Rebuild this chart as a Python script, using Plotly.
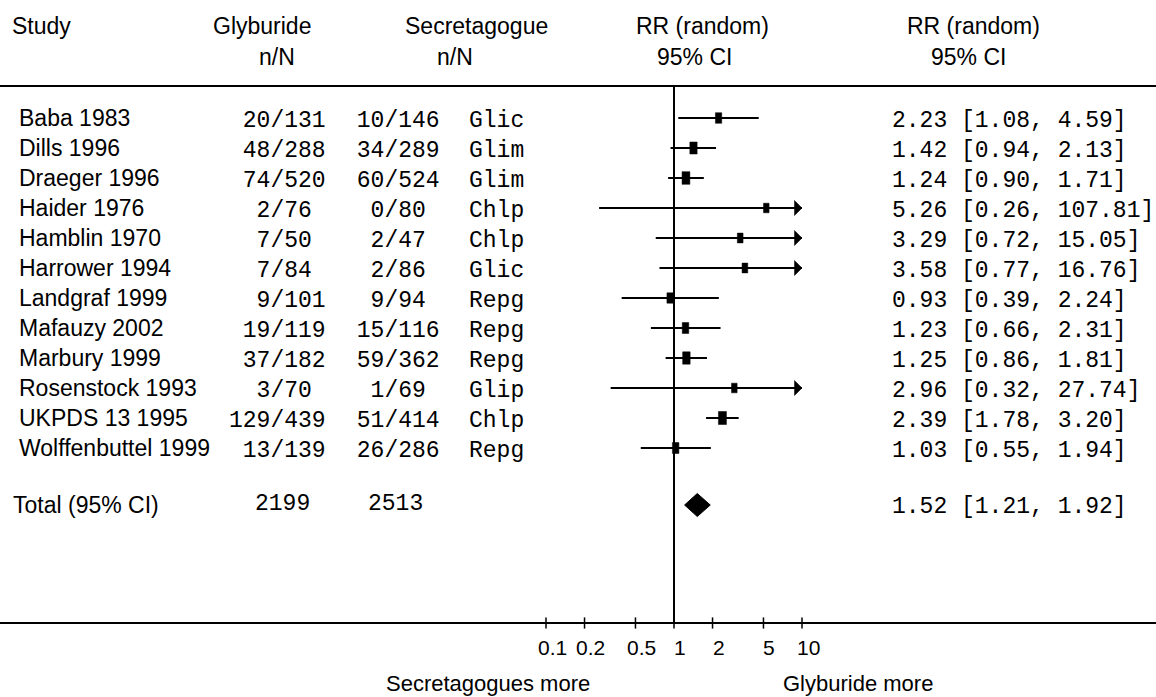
import numpy as np
import plotly.graph_objects as go

# ---------------- data ----------------
studies = ["Baba 1983", "Dills 1996", "Draeger 1996", "Haider 1976", "Hamblin 1970",
           "Harrower 1994", "Landgraf 1999", "Mafauzy 2002", "Marbury 1999",
           "Rosenstock 1993", "UKPDS 13 1995", "Wolffenbuttel 1999"]
glyb_n = [20, 48, 74, 2, 7, 7, 9, 19, 37, 3, 129, 13]
glyb_N = [131, 288, 520, 76, 50, 84, 101, 119, 182, 70, 439, 139]
sec_n = [10, 34, 60, 0, 2, 2, 9, 15, 59, 1, 51, 26]
sec_N = [146, 289, 524, 80, 47, 86, 94, 116, 362, 69, 414, 286]
drug = ["Glic", "Glim", "Glim", "Chlp", "Chlp", "Glic", "Repg", "Repg", "Repg",
        "Glip", "Chlp", "Repg"]
rr = [2.23, 1.42, 1.24, 5.26, 3.29, 3.58, 0.93, 1.23, 1.25, 2.96, 2.39, 1.03]
rr_lo = [1.08, 0.94, 0.90, 0.26, 0.72, 0.77, 0.39, 0.66, 0.86, 0.32, 1.78, 0.55]
rr_hi = [4.59, 2.13, 1.71, 107.81, 15.05, 16.76, 2.24, 2.31, 1.81, 27.74, 3.20, 1.94]
total_label = "Total (95% CI)"
total_glyb = 2199
total_sec = 2513
total_rr, total_lo, total_hi = 1.52, 1.21, 1.92
tick_vals = [0.1, 0.2, 0.5, 1, 2, 5, 10]
tick_text = ["0.1", "0.2", "0.5", "1", "2", "5", "10"]
axis_max = 10
left_label = "Secretagogues more"
right_label = "Glyburide more"

# ---------------- geometry / style ----------------
W, H = 1156, 697
X_ONE = 674.0      # pixel of RR = 1
PX_DEC = 128.0     # pixels per decade
ROW0 = 118.0       # pixel of first study row
ROWH = 30.0        # pixels per row
TOTAL_ROW = 12.9

SANS = "Liberation Sans, Arial, sans-serif"
MONO = "Liberation Mono, Courier New, monospace"
BLACK = "#000000"
MONO_SHIFT = -3    # courier digits sit a little lower than the sans labels

def py(p):
    return 1 - p / H

def px(p):
    return p / W

n = len(studies)
rows = list(range(n))
lx = np.log10(rr)
llo = np.log10(rr_lo)
lhi = np.log10(np.minimum(rr_hi, axis_max))

# box size from inverse-variance style weights (derived from the CIs)
se = (np.log(rr_hi) - np.log(rr_lo)) / 3.92
w = 1.0 / (se ** 2 + 0.03)
rel = w / w.max()
box_h = 9.5 + 3.5 * rel     # px
box_w = 5.5 + 2.5 * rel     # px

fig = go.Figure()

# CI lines
cx, cy = [], []
for i in rows:
    cx += [llo[i], lhi[i], None]
    cy += [i, i, None]
fig.add_trace(go.Scatter(x=cx, y=cy, mode="lines",
                         line=dict(color=BLACK, width=2), hoverinfo="skip"))

# point-estimate boxes (filled rectangles around each estimate)
bx, by = [], []
for i in rows:
    hw = box_w[i] / 2 / PX_DEC
    hh = box_h[i] / 2 / ROWH
    bx += [lx[i] - hw, lx[i] + hw, lx[i] + hw, lx[i] - hw, lx[i] - hw, None]
    by += [i - hh, i - hh, i + hh, i + hh, i - hh, None]
fig.add_trace(go.Scatter(x=bx, y=by, mode="lines", fill="toself", fillcolor=BLACK,
                         line=dict(color=BLACK, width=0.5), hoverinfo="skip"))

# arrow heads for CIs running past the axis
ax_, ay_ = [], []
tip = np.log10(axis_max)
for i in rows:
    if rr_hi[i] > axis_max:
        base = tip - 7.5 / PX_DEC
        ah = 7.5 / ROWH
        ax_ += [base, tip, base, base, None]
        ay_ += [i - ah, i, i + ah, i - ah, None]
fig.add_trace(go.Scatter(x=ax_, y=ay_, mode="lines", fill="toself", fillcolor=BLACK,
                         line=dict(color=BLACK, width=0.5), hoverinfo="skip"))

# total diamond
dh = 11.5 / ROWH
dx = np.log10([total_lo, total_rr, total_hi, total_rr, total_lo])
dy = [TOTAL_ROW, TOTAL_ROW - dh, TOTAL_ROW, TOTAL_ROW + dh, TOTAL_ROW]
fig.add_trace(go.Scatter(x=dx, y=dy, mode="lines", fill="toself",
                         fillcolor=BLACK, line=dict(color=BLACK, width=1),
                         hoverinfo="skip"))

# axis ticks (crossing the axis line)
axis_row = (623 - ROW0) / ROWH
fig.add_trace(go.Scatter(x=np.log10(tick_vals), y=[axis_row] * len(tick_vals),
                         mode="markers",
                         marker=dict(symbol="line-ns", size=8, color=BLACK,
                                     line=dict(color=BLACK, width=1.5)),
                         hoverinfo="skip"))

ann = []

def txt(x, y, s, font, size=23, xanchor="left", xref="paper", yref="y",
        xshift=0, yshift=0):
    ann.append(dict(x=x, y=y, xref=xref, yref=yref, text=s, showarrow=False,
                    xanchor=xanchor, yanchor="middle", xshift=xshift, yshift=yshift,
                    borderpad=0, borderwidth=0,
                    font=dict(family=font, size=size, color=BLACK)))

NB = "\u00a0"
def frac(a, b):
    return (str(a).rjust(3)).replace(" ", NB) + "/" + (str(b).ljust(3)).replace(" ", NB)

# headers
txt(px(12), py(26), "Study", SANS, yref="paper")
txt(px(262), py(26), "Glyburide", SANS, xanchor="center", yref="paper")
txt(px(277), py(57), "n/N", SANS, xanchor="center", yref="paper")
txt(px(476), py(26), "Secretagogue", SANS, xanchor="center", yref="paper")
txt(px(455), py(57), "n/N", SANS, xanchor="center", yref="paper")
txt(px(702), py(26), "RR (random)", SANS, xanchor="center", yref="paper")
txt(px(694), py(57), "95% CI", SANS, xanchor="center", yref="paper")
txt(px(973), py(26), "RR (random)", SANS, xanchor="center", yref="paper")
txt(px(968), py(57), "95% CI", SANS, xanchor="center", yref="paper")

# rows
for i in rows:
    txt(px(19), i, studies[i], SANS)
    txt(px(277.5), i, frac(glyb_n[i], glyb_N[i]), MONO, xanchor="center", yshift=MONO_SHIFT)
    txt(px(391.5), i, frac(sec_n[i], sec_N[i]), MONO, xanchor="center", yshift=MONO_SHIFT)
    txt(px(469), i, drug[i], MONO, yshift=MONO_SHIFT)
    txt(px(892), i, f"{rr[i]:.2f} [{rr_lo[i]:.2f}, {rr_hi[i]:.2f}]", MONO,
        yshift=MONO_SHIFT)

# total row
txt(px(13), TOTAL_ROW, total_label, SANS)
txt(px(282), TOTAL_ROW, str(total_glyb), MONO, xanchor="center", yshift=MONO_SHIFT + 4)
txt(px(396), TOTAL_ROW, str(total_sec), MONO, xanchor="center", yshift=MONO_SHIFT + 4)
txt(px(892), TOTAL_ROW, f"{total_rr:.2f} [{total_lo:.2f}, {total_hi:.2f}]", MONO,
    yshift=MONO_SHIFT + 1)

# tick labels
for v, t in zip(tick_vals, tick_text):
    txt(np.log10(v), py(647), t, SANS, size=21, xanchor="center",
        xref="x", yref="paper", xshift=6)

# bottom labels
txt(px(488), py(683), left_label, SANS, size=22, xanchor="center", yref="paper")
txt(px(858), py(683), right_label, SANS, size=22, xanchor="center", yref="paper")

shapes = [
    dict(type="line", xref="paper", yref="paper", x0=0, x1=1, y0=py(86), y1=py(86),
         line=dict(color=BLACK, width=2)),
    dict(type="line", xref="paper", yref="paper", x0=0, x1=1, y0=py(623), y1=py(623),
         line=dict(color=BLACK, width=2)),
    dict(type="line", xref="x", yref="paper", x0=0, x1=0, y0=py(86), y1=py(623),
         line=dict(color=BLACK, width=2)),
]

fig.update_layout(
    width=W, height=H, margin=dict(l=0, r=0, t=0, b=0),
    paper_bgcolor="white", plot_bgcolor="white", showlegend=False,
    hovermode=False, annotations=ann, shapes=shapes,
    xaxis=dict(range=[(0 - X_ONE) / PX_DEC, (W - X_ONE) / PX_DEC], visible=False,
               fixedrange=True),
    yaxis=dict(range=[(H - ROW0) / ROWH, -ROW0 / ROWH], visible=False,
               fixedrange=True),
)

fig.write_html("out.html", config={"displayModeBar": False},
               post_script="document.body.style.margin='0px';document.body.style.overflow='hidden';")
